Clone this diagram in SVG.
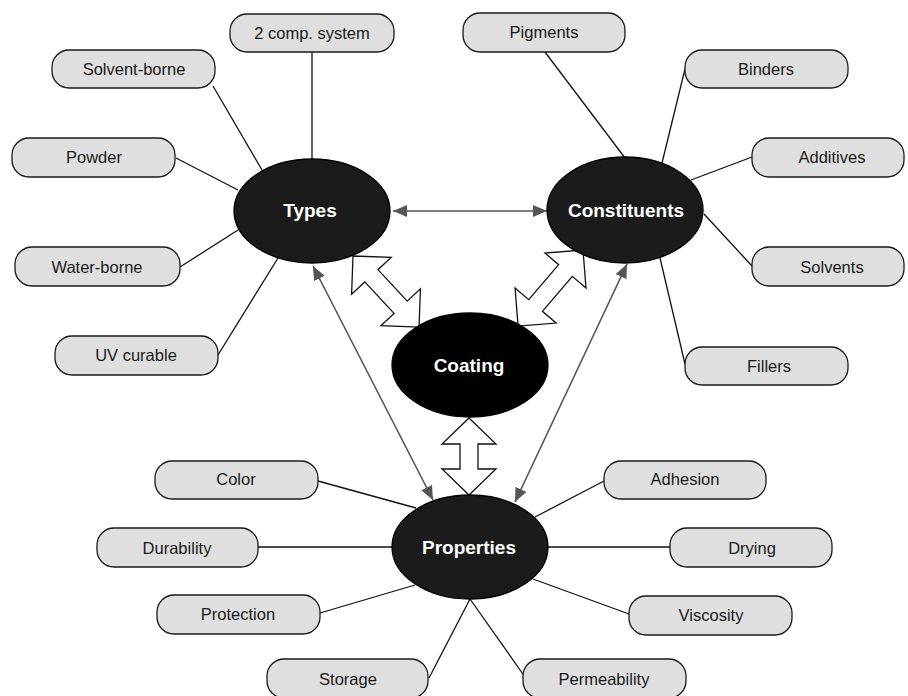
<svg xmlns="http://www.w3.org/2000/svg" width="908" height="696" viewBox="0 0 908 696">
<defs>
<style>
.box{fill:#dfdfdf;stroke:#1a1a1a;stroke-width:1.3}
.bt{font-family:"Liberation Sans",Arial,sans-serif;font-size:16.5px;fill:#1a1a1a;text-anchor:middle}
.hub{fill:#1b1b1b;stroke:#000;stroke-width:1.3}
.ht{font-family:"Liberation Sans",Arial,sans-serif;font-size:19px;font-weight:bold;fill:#fff;text-anchor:middle}
.ln{stroke:#111;stroke-width:1.3;fill:none}
.ga{stroke:#555;stroke-width:1.6;fill:none;marker-start:url(#ah);marker-end:url(#ah)}
.blk{fill:#fff;stroke:#111;stroke-width:1.3;stroke-linejoin:miter}
</style>
<marker id="ah" viewBox="0 0 14 12" refX="14" refY="6" markerWidth="14" markerHeight="12" markerUnits="userSpaceOnUse" orient="auto-start-reverse">
<path d="M0,0 L14,6 L0,12 z" fill="#555"/>
</marker>
</defs>

<g id="connectors">
<line class="ln" x1="312" y1="52" x2="312" y2="160"/>
<line class="ln" x1="213" y1="86" x2="262" y2="170"/>
<line class="ln" x1="176" y1="158" x2="238" y2="190"/>
<line class="ln" x1="180" y1="267" x2="238" y2="230"/>
<line class="ln" x1="218" y1="355" x2="278" y2="258"/>
<line class="ln" x1="545" y1="52" x2="625" y2="158"/>
<line class="ln" x1="685" y1="69" x2="662" y2="163"/>
<line class="ln" x1="752" y1="157" x2="691" y2="180"/>
<line class="ln" x1="752" y1="266" x2="704" y2="214"/>
<line class="ln" x1="660" y1="258" x2="685" y2="364"/>
<line class="ln" x1="318" y1="481" x2="416" y2="508"/>
<line class="ln" x1="258" y1="547" x2="392" y2="547"/>
<line class="ln" x1="320" y1="613" x2="415" y2="585"/>
<line class="ln" x1="429" y1="678" x2="470" y2="599"/>
<line class="ln" x1="525" y1="677" x2="470" y2="599"/>
<line class="ln" x1="604" y1="481" x2="535" y2="517"/>
<line class="ln" x1="548" y1="547" x2="670" y2="547"/>
<line class="ln" x1="629" y1="614" x2="533" y2="579"/>
<line class="ga" x1="393" y1="211" x2="547" y2="211"/>
<line class="ga" x1="313" y1="266" x2="433" y2="500"/>
<line class="ga" x1="627" y1="264" x2="515" y2="502"/>
<polygon class="blk" transform="translate(353,256) rotate(47.1)" points="0,0 27,-27 27,-9 70,-9 70,-27 97,0 70,27 70,9 27,9 27,27"/>
<polygon class="blk" transform="translate(583,250) rotate(130.5)" points="0,0 27,-27 27,-9 73,-9 73,-27 100,0 73,27 73,9 27,9 27,27"/>
<polygon class="blk" transform="translate(469,418) rotate(90)" points="0,0 26,-27 26,-9 51,-9 51,-27 77,0 51,27 51,9 26,9 26,27"/>
</g>

<g id="types"><ellipse class="hub" cx="312" cy="211" rx="78" ry="52"/><text class="ht" x="310" y="217">Types</text></g>
<g id="constituents"><ellipse class="hub" cx="625" cy="210" rx="78" ry="53"/><text class="ht" x="626" y="217">Constituents</text></g>
<g id="coating"><ellipse class="hub" cx="470" cy="365" rx="78" ry="52" style="fill:#000"/><text class="ht" x="469" y="372">Coating</text></g>
<g id="properties"><ellipse class="hub" cx="470" cy="547" rx="78" ry="52"/><text class="ht" x="469" y="554">Properties</text></g>

<g id="n-2comp"><rect class="box" x="230" y="14" width="164" height="38" rx="17"/><text class="bt" x="312" y="39">2 comp. system</text></g>
<g id="n-solvent-borne"><rect class="box" x="52" y="50" width="163" height="38" rx="17"/><text class="bt" x="134" y="75">Solvent-borne</text></g>
<g id="n-powder"><rect class="box" x="12" y="138" width="163" height="39" rx="17"/><text class="bt" x="94" y="163">Powder</text></g>
<g id="n-water-borne"><rect class="box" x="15" y="247" width="165" height="39" rx="17"/><text class="bt" x="97" y="273">Water-borne</text></g>
<g id="n-uv"><rect class="box" x="55" y="336" width="163" height="39" rx="17"/><text class="bt" x="136" y="361">UV curable</text></g>
<g id="n-pigments"><rect class="box" x="463" y="13" width="162" height="39" rx="17"/><text class="bt" x="544" y="38">Pigments</text></g>
<g id="n-binders"><rect class="box" x="685" y="50" width="163" height="38" rx="17"/><text class="bt" x="766" y="75">Binders</text></g>
<g id="n-additives"><rect class="box" x="752" y="138" width="152" height="39" rx="17"/><text class="bt" x="832" y="163">Additives</text></g>
<g id="n-solvents"><rect class="box" x="752" y="247" width="152" height="39" rx="17"/><text class="bt" x="832" y="273">Solvents</text></g>
<g id="n-fillers"><rect class="box" x="685" y="347" width="163" height="38" rx="17"/><text class="bt" x="769" y="372">Fillers</text></g>
<g id="n-color"><rect class="box" x="155" y="461" width="163" height="38" rx="17"/><text class="bt" x="236" y="485">Color</text></g>
<g id="n-durability"><rect class="box" x="97" y="528" width="161" height="39" rx="17"/><text class="bt" x="177" y="554">Durability</text></g>
<g id="n-protection"><rect class="box" x="157" y="595" width="163" height="39" rx="17"/><text class="bt" x="238" y="620">Protection</text></g>
<g id="n-storage"><rect class="box" x="267" y="659" width="161" height="39" rx="17"/><text class="bt" x="348" y="685">Storage</text></g>
<g id="n-adhesion"><rect class="box" x="604" y="461" width="162" height="38" rx="17"/><text class="bt" x="685" y="485">Adhesion</text></g>
<g id="n-drying"><rect class="box" x="670" y="528" width="162" height="39" rx="17"/><text class="bt" x="752" y="554">Drying</text></g>
<g id="n-viscosity"><rect class="box" x="629" y="596" width="163" height="39" rx="17"/><text class="bt" x="711" y="621">Viscosity</text></g>
<g id="n-permeability"><rect class="box" x="523" y="659" width="163" height="39" rx="17"/><text class="bt" x="604" y="685">Permeability</text></g>
</svg>
